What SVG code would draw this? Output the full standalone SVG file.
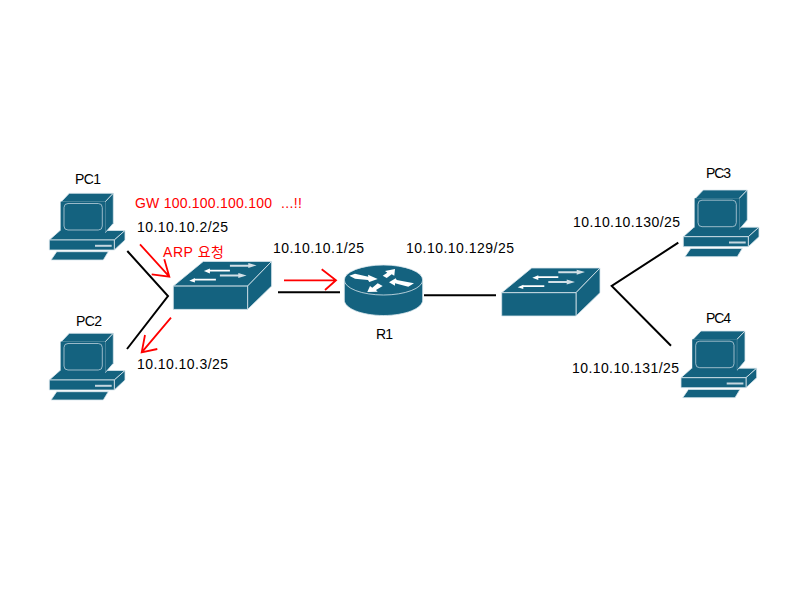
<svg xmlns="http://www.w3.org/2000/svg" width="800" height="600" viewBox="0 0 800 600">
<style>
text{font-family:"Liberation Sans","Noto Sans CJK KR",sans-serif;font-size:14px;fill:#000}
text.r{fill:#f00}
.b{fill:#14627f;stroke:#dbe7ed;stroke-width:.8;stroke-linejoin:round}
.f{fill:#14627f;stroke:#14627f;stroke-width:.8}
.w{fill:#fff}
.g{fill:#d3e0e7}
.k{stroke:#000;stroke-width:2;fill:none}
.a{stroke:#f00;stroke-width:1.8;fill:none}
</style>
<defs>
<g id="pc">
<path class="b" d="M49.300 240L60 230.500H125L114.300 240Z"/>
<path class="b" d="M114.300 240L125 230.500V240L114.300 250Z"/>
<rect class="b" x="49.300" y="240" width="65" height="10"/>
<rect x="95" y="244.800" width="16.700" height="2" fill="#c5d6df"/>
<path class="b" d="M61 202L69.300 193.300H113.300L105 202Z"/>
<path class="b" d="M105 202L113.300 193.300V223.300L105 233Z"/>
<rect class="f" x="61" y="202" width="44" height="31"/>
<rect x="64" y="203.500" width="38.300" height="26.500" rx="4" fill="#14627f" stroke="#a9c4d1" stroke-width=".9"/>
<path class="b" d="M51 260L56.700 251.700H108.300L103.300 260Z"/>
</g>
<g id="sw">
<path class="b" d="M501.700 292.700L531.700 268H600L576 292.700Z"/>
<path class="b" d="M576 292.700L600 268V292.700L576 316Z"/>
<rect class="b" x="501.700" y="292.700" width="74.300" height="23.300"/>
<path class="w" d="M532.300 277.700L538.300 275.200V276.300H558.300V278H538.300V280Z"/>
<path class="w" d="M517.700 287.300L523.300 284.700V285.300H544.300V287H523.300V289Z"/>
<path class="g" d="M585 272L576.700 269.700V271.300H558.300V273.300H576.700V274.700Z"/>
<path class="g" d="M575 282L566.700 279.500V281H548.300V283H566.700V284.500Z"/>
</g>
</defs>
<g id="connectors">
<path class="k" d="M127.300 251L168 296L127 349"/>
<path class="k" d="M278 292.300H340"/>
<path class="k" d="M424 295.300H496"/>
<path class="k" d="M678.300 242.700L611.700 286L671 345.700"/>
<path class="a" d="M140 244.300L169.300 276.700M164.300 259.300L169.300 276.700L151.700 274.300"/>
<path class="a" d="M171 317.700L141.700 352.300M145 335L141.700 352.300L157.300 349"/>
<path class="a" d="M284 280.300H336M321.700 269.300L336 280.300L325 290"/>
</g>
<g id="PC1"><use href="#pc"/><text x="75" y="184" textLength="26">PC1</text></g>
<g id="PC2"><use href="#pc" y="140"/><text x="76" y="326" textLength="26">PC2</text></g>
<g id="PC3"><use href="#pc" x="634" y="-3.300"/><text x="706" y="178" textLength="25">PC3</text></g>
<g id="PC4"><use href="#pc" x="631.700" y="137.700"/><text x="706" y="323" textLength="25">PC4</text></g>
<g id="SW1"><use href="#sw" x="-328.400" y="-6.600"/></g>
<g id="SW2"><use href="#sw"/></g>
<g id="R1">
<path class="b" d="M344.300 280V300C344.300 308.500 361.800 315.500 383.500 315.500S422.700 308.500 422.700 300V280Z"/>
<ellipse class="b" cx="383.500" cy="280" rx="39.200" ry="15"/>
<path class="w" d="M349.300 275.700L355 273.700L368.300 276.700L368 274.700L377.700 279L369.300 282L368 280L355 278.700Z"/>
<path class="w" d="M395 269L385 271L387.300 272.700L382.700 275.700L386.700 278L391.700 274.300L394.300 275.700Z"/>
<path class="w" d="M389 282.300L395.700 278.300L396.700 280L414 283.300L408.300 286.700L395 283.300L395 285.700Z"/>
<path class="w" d="M367.300 292L370 286L372.300 287.700L377.700 283.300L382.700 286L376 290L377.700 291.700Z"/>
<text x="376" y="339" textLength="17">R1</text>
</g>
<g id="labels">
<text class="r" x="135" y="208" textLength="137">GW 100.100.100.100</text>
<text class="r" x="281" y="208" textLength="21">...!!</text>
<text x="137" y="232" textLength="91">10.10.10.2/25</text>
<text class="r" x="163" y="257" textLength="61">ARP 요청</text>
<text x="273" y="253" textLength="91">10.10.10.1/25</text>
<text x="406" y="253" textLength="108">10.10.10.129/25</text>
<text x="137" y="369" textLength="91">10.10.10.3/25</text>
<text x="573" y="227" textLength="107">10.10.10.130/25</text>
<text x="572" y="373" textLength="107">10.10.10.131/25</text>
</g>
</svg>
